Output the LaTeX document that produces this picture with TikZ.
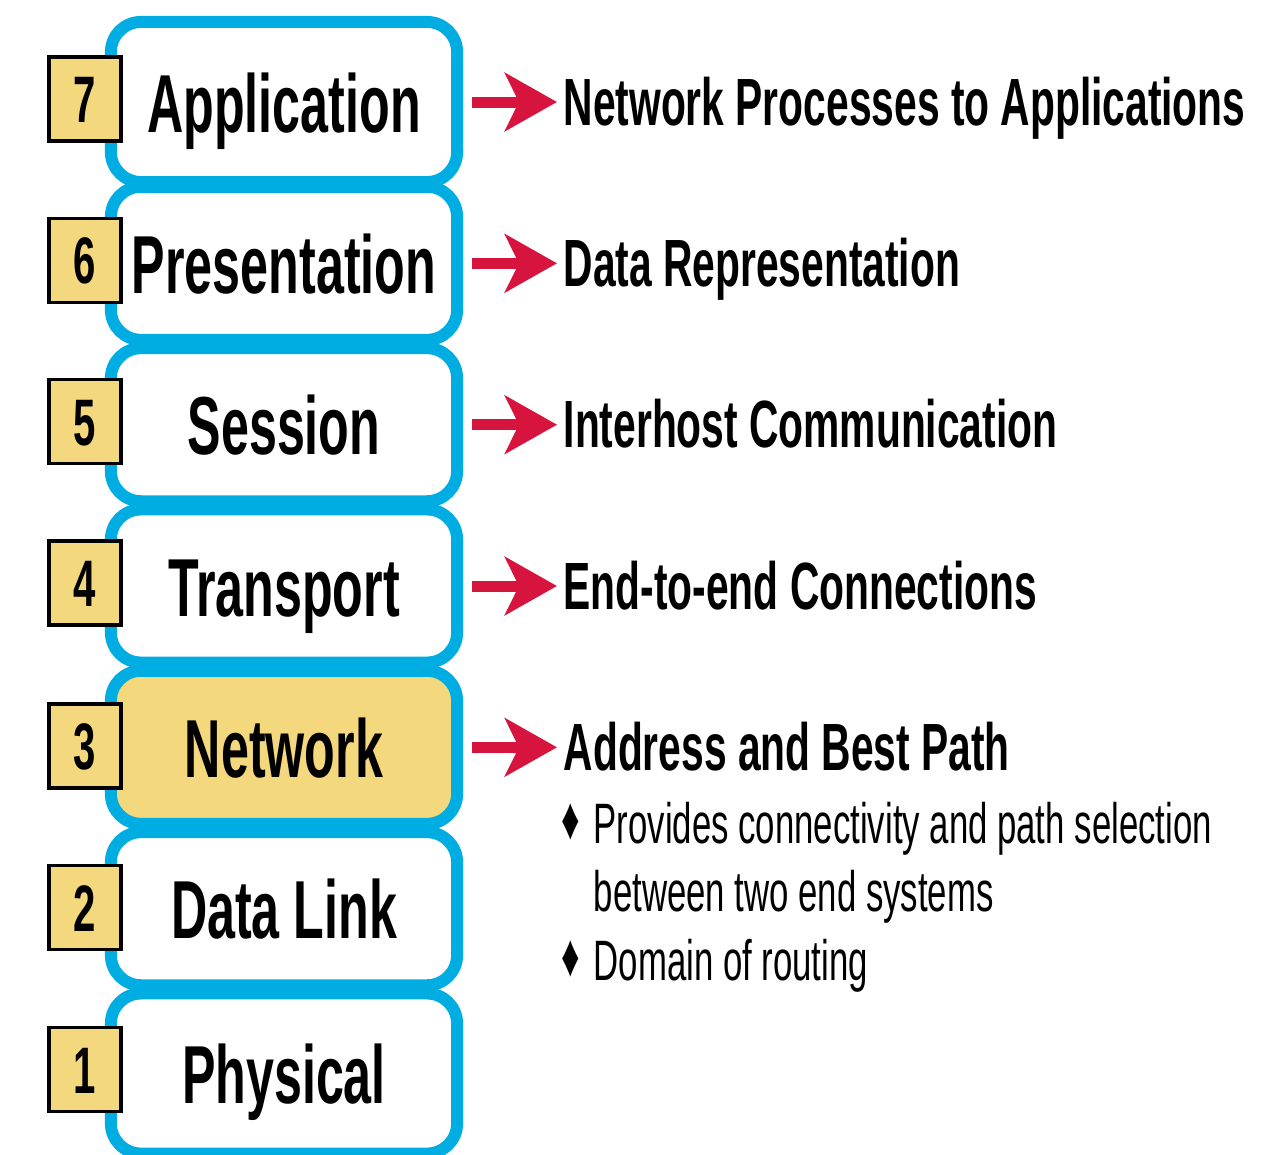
\documentclass[tikz,border=0pt]{standalone}
\usepackage{fontspec}
\newfontfamily\cond{Liberation Sans}[FakeStretch=0.61]
\usetikzlibrary{arrows.meta}
\definecolor{osicyan}{RGB}{0,173,226}
\definecolor{osiyellow}{RGB}{243,216,126}
\definecolor{osired}{RGB}{214,20,62}
\tikzset{
  layerbox/.style={draw=osicyan, line width=0.12cm, fill=white, rounded corners=0.3cm,
    minimum width=3.46cm, minimum height=1.53cm, inner sep=0pt,
    font=\cond\bfseries\fontsize{23.4}{28}\selectfont, text height=0.6cm, text depth=0cm},
  numbox/.style={draw=black, line width=0.035cm, fill=osiyellow,
    minimum width=0.72cm, minimum height=0.84cm, inner sep=0pt,
    font=\cond\bfseries\fontsize{18.7}{22}\selectfont, text height=0.47cm, text depth=0cm},
  headtext/.style={anchor=base west, inner sep=0pt, font=\cond\bfseries\fontsize{19}{23}\selectfont},
  bodytext/.style={anchor=base west, inner sep=0pt, font=\cond\fontsize{16.2}{20}\selectfont},
  bulletmark/.style={inner sep=0pt, font=\cond\fontsize{17}{19}\selectfont},
  redarrow/.style={draw=osired, line width=0.11cm, shorten <=0.09cm, shorten >=0.06cm,
    -{Stealth[length=0.52cm, width=0.58cm, inset=0.14cm]}}
}
\begin{document}
\begin{tikzpicture}[x=0.01cm, y=-0.01cm]
\useasboundingbox (0,0) rectangle (1273,1154);
% layers
\node[layerbox, minimum height=1.6cm, yshift=-0.035cm] (L7) at (284,98.5) {Application};
\node[layerbox] (L6) at (284,263.3)  {Presentation};
\node[layerbox] (L5) at (284,424.7)  {Session};
\node[layerbox] (L4) at (284,586)    {Transport};
\node[layerbox, fill=osiyellow] (L3) at (284,747.3) {Network};
\node[layerbox] (L2) at (284,908.7)  {Data Link};
\node[layerbox, minimum height=1.6cm, yshift=-0.035cm] (L1) at (284,1070) {Physical};
% numbers
\node[numbox] (N7) at (85,99)     {7};
\node[numbox] (N6) at (85,260.3)  {6};
\node[numbox] (N5) at (85,421.7)  {5};
\node[numbox] (N4) at (85,583)    {4};
\node[numbox] (N3) at (85,746)    {3};
\node[numbox] (N2) at (85,907.7)  {2};
\node[numbox] (N1) at (85,1069.5) {1};
% headings
\node[headtext] (H7) at (563,125)   {Network Processes to Applications};
\node[headtext] (H6) at (563,286.3) {Data Representation};
\node[headtext] (H5) at (563,447.7) {Interhost Communication};
\node[headtext] (H4) at (563,609)   {End-to-end Connections};
\node[headtext] (H3) at (563,770.3) {Address and Best Path};
% arrows
\draw[redarrow] (L7.east) -- (L7.east -| H7.west);
\draw[redarrow] (L6.east) -- (L6.east -| H6.west);
\draw[redarrow] (L5.east) -- (L5.east -| H5.west);
\draw[redarrow] (L4.east) -- (L4.east -| H4.west);
\draw[redarrow] (L3.east) -- (L3.east -| H3.west);
% bullets
\node[bulletmark] (D1) at (571,822) {♦};
\node[bodytext] (B1) at (593,843) {Provides connectivity and path selection};
\node[bodytext] (B1b) at (593,911) {between two end systems};
\node[bulletmark] (D2) at (571,959) {♦};
\node[bodytext] (B2) at (593,980) {Domain of routing};
\end{tikzpicture}
\end{document}
